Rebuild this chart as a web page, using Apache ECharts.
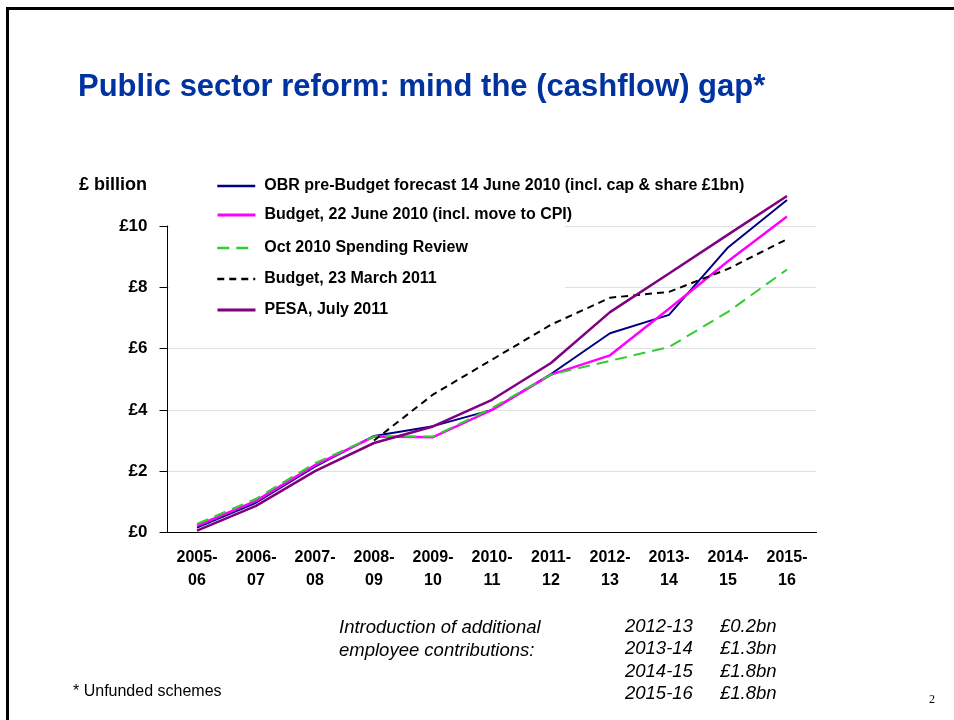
<!DOCTYPE html>
<html>
<head>
<meta charset="utf-8">
<script src="https://cdn.jsdelivr.net/npm/echarts@6/dist/echarts.min.js"></script>
<style>
html,body{margin:0;padding:0;background:#fff;}
#c{width:954px;height:720px;}
</style>
</head>
<body>
<div id="c"></div>
<script>
// Categories (fiscal years)
const categories = ['2005-\n06','2006-\n07','2007-\n08','2008-\n09','2009-\n10','2010-\n11','2011-\n12','2012-\n13','2013-\n14','2014-\n15','2015-\n16'];
// Series values (£ billion)
const obrJune2010   = [0.16, 0.97, 2.15, 3.15, 3.47, 4.0, 5.17, 6.5, 7.1, 9.3, 10.85];
const budgetJune2010 = [0.22, 1.03, 2.2, 3.13, 3.11, 4.0, 5.15, 5.78, 7.3, 8.85, 10.31];
const spendingReview = [0.28, 1.1, 2.26, 3.13, 3.13, 4.06, 5.15, 5.6, 6.05, 7.2, 8.58];
const budgetMar2011  = [null, null, null, 3.0, 4.5, 5.64, 6.78, 7.66, 7.85, 8.6, 9.57];
const pesaJuly2011   = [0.06, 0.87, 2.0, 2.92, 3.46, 4.33, 5.53, 7.19, 8.45, 9.72, 10.98];
const seriesNames = [
  'OBR pre-Budget forecast 14 June 2010 (incl. cap & share £1bn)',
  'Budget, 22 June 2010 (incl. move to CPI)',
  'Oct 2010 Spending Review',
  'Budget, 23 March 2011',
  'PESA, July 2011'
];
// Y-axis ticks
const yTicks = [0, 2, 4, 6, 8, 10];
// Footnote table
const contribYears = ['2012-13','2013-14','2014-15','2015-16'];
const contribValues = ['£0.2bn','£1.3bn','£1.8bn','£1.8bn'];

const FONT = 'Arial, "Liberation Sans", sans-serif';
const chart = echarts.init(document.getElementById('c'), null, {renderer:'canvas'});

const colors = ['#000080','#ff00ff','#33cc33','#000000','#800080'];
const widths = [2, 2.5, 2, 2, 2.5];
const dashes = ['solid','solid',[12,7],[7,5],'solid'];
const dataSets = [obrJune2010, budgetJune2010, spendingReview, budgetMar2011, pesaJuly2011];
const legendY = [187, 216, 249, 280, 311];

const series = dataSets.map((d,i)=>({
  name: seriesNames[i], type:'line', data:d, symbol:'none', clip:false,
  lineStyle:{color:colors[i], width:widths[i], type:dashes[i]},
  itemStyle:{color:colors[i]}, connectNulls:false, animation:false, silent:true
}));

const legends = seriesNames.map((n,i)=>({
  data:[n], left:216, top:legendY[i]-9, padding:0, itemWidth:38, itemHeight:18,
  selectedMode:false, orient:'horizontal',
  itemStyle:{opacity:0},
  lineStyle:{width: i===1||i===4 ? 3 : 2.5},
  textStyle:{fontFamily:FONT, fontSize:16, fontWeight:'bold', color:'#000', padding:[0,0,0,4]}
}));

const graphics = [
  {type:'line', shape:{x1:7.5,y1:7,x2:7.5,y2:720}, style:{stroke:'#000',lineWidth:3}, z:100},
  {type:'line', shape:{x1:6,y1:8.5,x2:954,y2:8.5}, style:{stroke:'#000',lineWidth:3}, z:100},
  // white legend backdrop (hides gridlines behind legend box)
  {type:'rect', shape:{x:169,y:200,width:396,height:100}, style:{fill:'#fff'}, z:1},
  {type:'text', left:79, top:176, style:{text:'£ billion', font:'bold 18px '+FONT, fill:'#000'}},
  {type:'text', left:339, top:617, style:{text:'Introduction of additional\nemployee contributions:', font:'italic 18.5px '+FONT, fill:'#000', lineHeight:22.5}},
  {type:'text', left:929, top:694, style:{text:'2', font:'12px "Liberation Serif", "Times New Roman", serif', fill:'#000'}},
  {type:'text', left:73, top:684, style:{text:'* Unfunded schemes', font:'16px '+FONT, fill:'#000'}}
];
contribYears.forEach((y,i)=>{
  graphics.push({type:'text', left:625, top:617+i*22.5, style:{text:y, font:'italic 18.5px '+FONT, fill:'#000'}});
  graphics.push({type:'text', left:720, top:617+i*22.5, style:{text:contribValues[i], font:'italic 18.5px '+FONT, fill:'#000'}});
});

chart.setOption({
  animation:false,
  backgroundColor:'#fff',
  title:{text:'Public sector reform: mind the (cashflow) gap*', left:73, top:67,
    textStyle:{fontFamily:FONT, fontSize:31, fontWeight:'bold', color:'#0033a0'}},
  legend: legends,
  grid:{left:167.5, right:137.5, top:226, bottom:187.5, containLabel:false},
  xAxis:{type:'category', data:categories, boundaryGap:true,
    axisLine:{lineStyle:{color:'#000', width:1}},
    axisTick:{alignWithLabel:true, length:5, lineStyle:{color:'#000'}},
    axisLabel:{margin:14, fontFamily:FONT, fontSize:16, fontWeight:'bold', color:'#000', lineHeight:23, interval:0},
    splitLine:{show:false}},
  yAxis:{type:'value', min:yTicks[0], max:yTicks[yTicks.length-1], interval:2,
    axisLine:{show:true, lineStyle:{color:'#000', width:1}},
    axisTick:{show:true, length:8, lineStyle:{color:'#000'}},
    axisLabel:{margin:20, fontFamily:FONT, fontSize:17, fontWeight:'bold', color:'#000', formatter:v=>'£'+v},
    splitLine:{show:true, lineStyle:{color:'#e0e0e0', width:1}}},
  series: series,
  graphic: graphics
});
</script>
</body>
</html>
